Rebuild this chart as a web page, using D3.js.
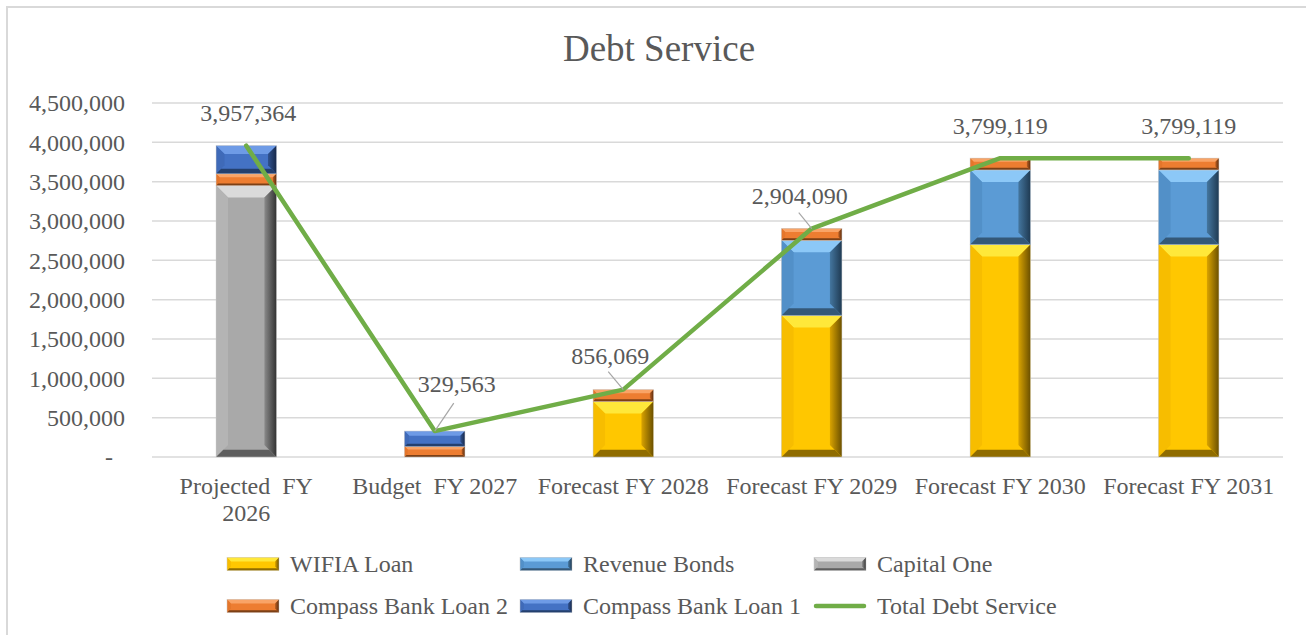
<!DOCTYPE html>
<html>
<head>
<meta charset="utf-8">
<script src="https://cdn.jsdelivr.net/npm/d3@7"></script>
<style>
  html, body { margin: 0; padding: 0; background: #fff; }
  svg { display: block; }
  text { font-family: "Liberation Serif", "Times New Roman", serif; fill: #595959; white-space: pre; }
</style>
</head>
<body>
<svg id="chart" width="1306" height="635"></svg>
<script>
// Debt service by fiscal year, stacked by source, with the total as a line
const categories = ["Projected  FY 2026", "Budget  FY 2027", "Forecast FY 2028", "Forecast FY 2029", "Forecast FY 2030", "Forecast FY 2031"];
const categoryLines = [["Projected  FY", "2026"], ["Budget  FY 2027"], ["Forecast FY 2028"], ["Forecast FY 2029"], ["Forecast FY 2030"], ["Forecast FY 2031"]];

const wifiaLoan        = [0,       0,       706069, 1800000, 2700000, 2700000];
const revenueBonds     = [0,       0,       0,      954090,  949119,  949119];
const capitalOne       = [3450000, 0,       0,      0,       0,       0];
const compassBankLoan2 = [150000,  135000,  150000, 150000,  150000,  150000];
const compassBankLoan1 = [357364,  194563,  0,      0,       0,       0];
const totalDebtService = [3957364, 329563,  856069, 2904090, 3799119, 3799119];

const yTicks = [0, 500000, 1000000, 1500000, 2000000, 2500000, 3000000, 3500000, 4000000, 4500000];

// stacking order, bottom to top
const seriesNames = ["WIFIA Loan", "Revenue Bonds", "Capital One", "Compass Bank Loan 2", "Compass Bank Loan 1"];
const seriesValues = [wifiaLoan, revenueBonds, capitalOne, compassBankLoan2, compassBankLoan1];

// bevelled fill palettes: face, top, left, right (inner/outer), bottom
const palettes = {
  "WIFIA Loan":          { face: "#FFC700", top: "#FFE83A", left: "#F7BD00", rIn: "#D9A300", rOut: "#6B5000", bottom: "#8F6C00" },
  "Revenue Bonds":       { face: "#5B9BD5", top: "#8CC8F7", left: "#5290C8", rIn: "#44769F", rOut: "#1F3A52", bottom: "#345878" },
  "Capital One":         { face: "#A9A9A9", top: "#DADADA", left: "#B4B4B4", rIn: "#8A8A8A", rOut: "#333333", bottom: "#5E5E5E" },
  "Compass Bank Loan 2": { face: "#ED7D31", top: "#F9A467", left: "#E5762B", rIn: "#B85E22", rOut: "#5E2E0E", bottom: "#7C4016" },
  "Compass Bank Loan 1": { face: "#4472C4", top: "#6E9BE6", left: "#3F6AB8", rIn: "#30528F", rOut: "#17294A", bottom: "#24406E" }
};

const svg = d3.select("#chart");
const defs = svg.append("defs");

// frame
svg.append("rect").attr("x", 7).attr("y", 7).attr("width", 1310).attr("height", 640)
  .attr("fill", "none").attr("stroke", "#d9d9d9").attr("stroke-width", 2);

// title
svg.append("text").attr("x", 659).attr("y", 61).attr("text-anchor", "middle")
  .style("font-size", "37px").text("Debt Service");

const plot = { left: 152, right: 1283, top: 103, bottom: 457 };

const x = d3.scaleBand().domain(categories).range([plot.left, plot.right]).paddingInner(0).paddingOuter(0);
const y = d3.scaleLinear().domain([0, 4500000]).range([plot.bottom, plot.top]);
const barW = x.bandwidth() * 0.32;

// gridlines
svg.append("g").selectAll("line").data(yTicks).join("line")
  .attr("x1", plot.left).attr("x2", plot.right)
  .attr("y1", d => y(d)).attr("y2", d => y(d))
  .attr("stroke", "#d9d9d9").attr("stroke-width", 1.5);

// y axis labels
const fmt = d3.format(",");
const yAxis = d3.axisLeft(y).tickValues(yTicks).tickSize(0).tickPadding(0)
  .tickFormat(d => d === 0 ? "-" : fmt(d));
const yg = svg.append("g").attr("transform", `translate(${plot.left - 27},0)`).call(yAxis);
yg.select(".domain").remove();
yg.selectAll("text").style("font-size", "24px").style("font-family", "Liberation Serif, serif")
  .attr("fill", "#595959").attr("dy", "0.33em")
  .attr("dx", d => d === 0 ? "-12px" : "0");

// x axis labels
const xg = svg.append("g");
categories.forEach((c, i) => {
  const t = xg.append("text").attr("x", x(c) + x.bandwidth() / 2).attr("y", 494)
    .attr("text-anchor", "middle").style("font-size", "24px");
  categoryLines[i].forEach((line, k) => {
    t.append("tspan").attr("x", x(c) + x.bandwidth() / 2).attr("dy", k === 0 ? 0 : 27).text(line);
  });
});

// gradient for the dark right-hand bevel of each series
seriesNames.forEach((name, i) => {
  const p = palettes[name];
  const gr = defs.append("linearGradient").attr("id", "rg" + i).attr("x1", "0").attr("x2", "1").attr("y1", "0").attr("y2", "0");
  gr.append("stop").attr("offset", "0").attr("stop-color", p.rIn);
  gr.append("stop").attr("offset", "1").attr("stop-color", p.rOut);
});

function bevelRect(g, x0, y0, w, h, idx, bMax) {
  const p = palettes[seriesNames[idx]];
  const b = Math.min(bMax, h * 0.3, w * 0.2);
  const x1 = x0 + w, y1 = y0 + h;
  const poly = pts => pts.map(q => q.join(",")).join(" ");
  g.append("rect").attr("x", x0).attr("y", y0).attr("width", w).attr("height", h).attr("fill", p.face);
  g.append("polygon").attr("points", poly([[x0, y0], [x1, y0], [x1 - b, y0 + b], [x0 + b, y0 + b]])).attr("fill", p.top);
  g.append("polygon").attr("points", poly([[x0, y0], [x0 + b, y0 + b], [x0 + b, y1 - b], [x0, y1]])).attr("fill", p.left);
  g.append("polygon").attr("points", poly([[x1, y0], [x1, y1], [x1 - b, y1 - b], [x1 - b, y0 + b]])).attr("fill", `url(#rg${idx})`);
  g.append("polygon").attr("points", poly([[x0, y1], [x1, y1], [x1 - b * 0.6, y1 - b * 0.6], [x0 + b * 0.6, y1 - b * 0.6]])).attr("fill", p.bottom);
  g.append("rect").attr("x", x0).attr("y", y0).attr("width", w).attr("height", h)
    .attr("fill", "none").attr("stroke", "#c8c8c8").attr("stroke-width", 0.6).attr("stroke-opacity", 0.8);
}

// stacked bars
const stackRows = categories.map((c, i) => {
  const row = { cat: c };
  seriesNames.forEach((s, k) => { row[s] = seriesValues[k][i]; });
  return row;
});
const stacked = d3.stack().keys(seriesNames)(stackRows);
const barsG = svg.append("g");
stacked.forEach((layer, idx) => {
  layer.forEach(seg => {
    const h = y(seg[0]) - y(seg[1]);
    if (h <= 0.01) return;
    const cx = x(seg.data.cat) + x.bandwidth() / 2;
    bevelRect(barsG, cx - barW / 2, y(seg[1]), barW, h, idx, 12);
  });
});

// total line
const cxOf = i => x(categories[i]) + x.bandwidth() / 2;
const line = d3.line().x((d, i) => cxOf(i)).y(d => y(d));
svg.append("path").datum(totalDebtService).attr("d", line)
  .attr("fill", "none").attr("stroke", "#70AD47").attr("stroke-width", 4.5)
  .attr("stroke-linecap", "round").attr("stroke-linejoin", "round");

// data labels for the total (offsets relative to each point, with leader lines where moved)
const labelLayout = [
  { dx: 2,   dy: -33, leader: false },
  { dx: 22,  dy: -47, leader: true, lx: 19, ly: -28 },
  { dx: -13, dy: -34, leader: true, lx: -15, ly: -18 },
  { dx: -12, dy: -32, leader: true, lx: -13, ly: -16 },
  { dx: 0,   dy: -32, leader: false },
  { dx: 0,   dy: -32, leader: false }
];
const labG = svg.append("g");
totalDebtService.forEach((v, i) => {
  const px = cxOf(i), py = y(v), L = labelLayout[i];
  if (L.leader) {
    labG.append("line").attr("x1", px + L.lx).attr("y1", py + L.ly).attr("x2", px).attr("y2", py)
      .attr("stroke", "#a6a6a6").attr("stroke-width", 1.2);
  }
  labG.append("text").attr("x", px + L.dx).attr("y", py + L.dy).attr("dy", "0.33em")
    .attr("text-anchor", "middle").style("font-size", "24px").text(fmt(v));
});

// legend
const legendItems = [
  { name: "WIFIA Loan", col: 0, row: 0, type: "bar", idx: 0 },
  { name: "Revenue Bonds", col: 1, row: 0, type: "bar", idx: 1 },
  { name: "Capital One", col: 2, row: 0, type: "bar", idx: 2 },
  { name: "Compass Bank Loan 2", col: 0, row: 1, type: "bar", idx: 3 },
  { name: "Compass Bank Loan 1", col: 1, row: 1, type: "bar", idx: 4 },
  { name: "Total Debt Service", col: 2, row: 1, type: "line" }
];
const legX = [227, 520, 814], legY = [564, 606];
const legG = svg.append("g");
legendItems.forEach(it => {
  const lx = legX[it.col], ly = legY[it.row];
  if (it.type === "bar") {
    bevelRect(legG, lx, ly - 6.5, 52, 13, it.idx, 4);
  } else {
    legG.append("line").attr("x1", lx + 2).attr("x2", lx + 50).attr("y1", ly).attr("y2", ly)
      .attr("stroke", "#70AD47").attr("stroke-width", 4.5).attr("stroke-linecap", "round");
  }
  legG.append("text").attr("x", lx + 63).attr("y", ly).attr("dy", "0.33em")
    .style("font-size", "24px").text(it.name);
});
</script>
</body>
</html>
